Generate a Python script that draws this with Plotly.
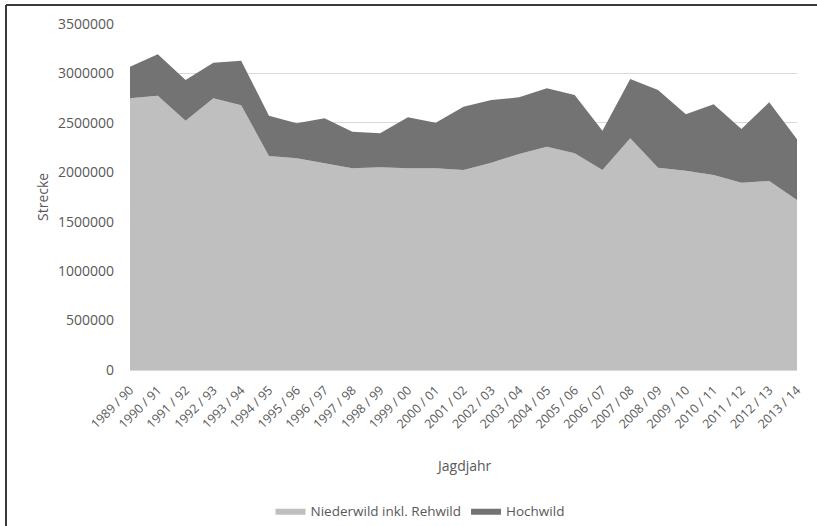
import plotly.graph_objects as go

jagdjahr = ["1989 / 90", "1990 / 91", "1991 / 92", "1992 / 93", "1993 / 94", "1994 / 95",
            "1995 / 96", "1996 / 97", "1997 / 98", "1998 / 99", "1999 / 00", "2000 / 01",
            "2001 / 02", "2002 / 03", "2003 / 04", "2004 / 05", "2005 / 06", "2006 / 07",
            "2007 / 08", "2008 / 09", "2009 / 10", "2010 / 11", "2011 / 12", "2012 / 13",
            "2013 / 14"]

niederwild = [2748000, 2775000, 2522000, 2748000, 2677000, 2165000,
              2141000, 2091000, 2040000, 2050000, 2040000, 2040000,
              2023000, 2097000, 2185000, 2259000, 2192000, 2023000,
              2344000, 2047000, 2016000, 1973000, 1895000, 1912000,
              1720000]

gesamt = [3068000, 3193000, 2934000, 3109000, 3129000, 2573000,
          2496000, 2546000, 2411000, 2394000, 2556000, 2502000,
          2664000, 2731000, 2758000, 2850000, 2782000, 2421000,
          2944000, 2832000, 2587000, 2688000, 2438000, 2708000,
          2333000]

hochwild = [g - n for g, n in zip(gesamt, niederwild)]

FONT = "Open Sans"
TXT = "#595959"

fig = go.Figure()
fig.add_trace(go.Scatter(x=jagdjahr, y=niederwild, name="Niederwild inkl. Rehwild",
                         mode="lines", stackgroup="one", line=dict(width=0, color="#bfbfbf"),
                         fillcolor="#bfbfbf"))
fig.add_trace(go.Scatter(x=jagdjahr, y=hochwild, name="Hochwild",
                         mode="lines", stackgroup="one", line=dict(width=0, color="#737373"),
                         fillcolor="#737373"))

L, R, T, B = 130, 20, 24, 156
W, H = 817, 526
pw, ph = W - L - R, H - T - B

def px(x):
    return (x - L) / pw

def py(y):
    return (H - B - y) / ph

fig.update_layout(
    width=W, height=H,
    margin=dict(l=L, r=R, t=T, b=B, autoexpand=False),
    paper_bgcolor="white", plot_bgcolor="white",
    font=dict(family=FONT, color=TXT, size=13),
    showlegend=True,
    legend=dict(orientation="h", x=px(420), xanchor="center", y=py(511), yanchor="middle",
                font=dict(size=13.5, color=TXT), traceorder="normal", itemwidth=30),
    xaxis=dict(type="category", range=[0, 24], tickangle=-45, showgrid=False,
               showline=True, linecolor="#d9d9d9", linewidth=1, ticks="",
               tickfont=dict(size=12.5, color=TXT), ticklabelstandoff=7,
               fixedrange=True, automargin=False),
    yaxis=dict(range=[0, 3500000], dtick=500000, tickformat="d", showgrid=True,
               gridcolor="#d9d9d9", gridwidth=1, zeroline=False, showline=False,
               tickfont=dict(size=14, color=TXT), ticklabelstandoff=15, fixedrange=True,
               automargin=False),
    annotations=[
        dict(text="Strecke", x=px(42), y=0.5, xref="paper", yref="paper", textangle=-90,
             showarrow=False, font=dict(size=14, color=TXT), xanchor="center", yanchor="middle"),
        dict(text="Jagdjahr", x=0.5, y=py(465), xref="paper", yref="paper",
             showarrow=False, font=dict(size=14, color=TXT), xanchor="center", yanchor="middle"),
    ],
    shapes=[
        dict(type="line", xref="paper", yref="paper", x0=px(6), x1=px(817), y0=py(5), y1=py(5),
             line=dict(color="#3a3a3a", width=2)),
        dict(type="line", xref="paper", yref="paper", x0=px(6), x1=px(6), y0=py(5), y1=py(526),
             line=dict(color="#3a3a3a", width=2)),
    ],
)

fig.write_html("out.html", config={"displayModeBar": False},
               post_script="document.body.style.margin='0';document.body.style.overflow='hidden';")
